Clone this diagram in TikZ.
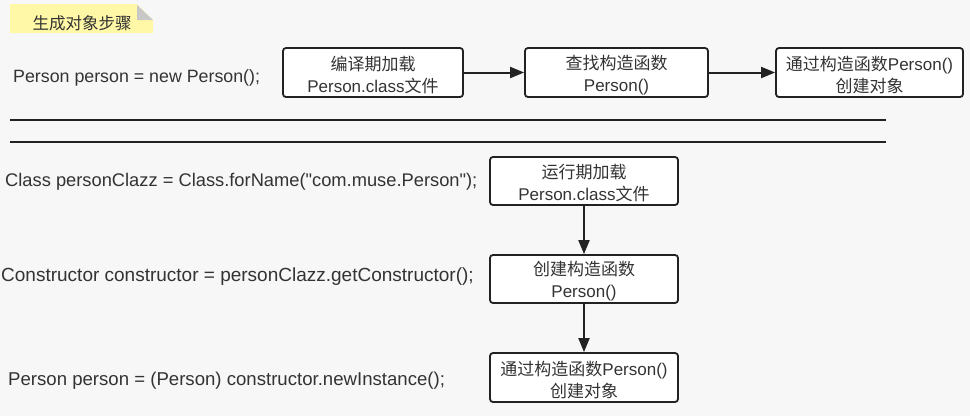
\documentclass[tikz,border=0pt]{standalone}
\usepackage{fontspec}
\setmainfont{Liberation Sans}
\newfontfamily\cjkfont{Noto Sans CJK SC}
\newcommand\myzh[1]{{\cjkfont #1}}
\usetikzlibrary{arrows.meta}
\definecolor{bgc}{HTML}{F7F7F7}
\definecolor{notey}{HTML}{FFF8A6}
\definecolor{foldc}{HTML}{C8C8C8}
\definecolor{txt}{HTML}{333333}
\definecolor{bdr}{HTML}{222222}
\tikzset{
  stepbox/.style={draw=bdr, line width=1.8pt, fill=white, rounded corners=3pt,
    inner sep=0pt},
  boxtext/.style={align=center, text=txt, inner sep=0pt, yshift=-2.5pt,
    font=\fontsize{17}{22}\selectfont},
  codetext/.style={anchor=west, inner sep=0pt, text=txt, font=\fontsize{18.3}{22}\selectfont},
  flow/.style={draw=bdr, line width=2pt, -{Triangle[length=14pt,width=11pt]}},
  sepline/.style={draw=bdr, line width=2.2pt}
}
\begin{document}
\begin{tikzpicture}[x=1pt,y=-1pt]
\fill[bgc] (0,0) rectangle (970,416);
\useasboundingbox (0,0) rectangle (970,416);
% note
\fill[notey] (10,4) -- (137,4) -- (153,20) -- (153,33) -- (10,33) -- cycle;
\fill[foldc] (137,5) -- (153,20) -- (137,20) -- cycle;
\node[inner sep=0pt, text=txt, font=\fontsize{16.5}{20}\selectfont] (note) at (82,23) {\myzh{生成对象步骤}};
% top row
\node[codetext, font=\fontsize{17.8}{22}\selectfont] (t1) at (13,78) {Person person = new Person();};
\node[stepbox, minimum width=180pt, minimum height=49pt,
  label={[boxtext]center:\myzh{编译期加载}\\Person.class\myzh{文件}}] (b1) at (373,72.5) {};
\node[stepbox, minimum width=183pt, minimum height=49pt,
  label={[boxtext]center:\myzh{查找构造函数}\\Person()}] (b2) at (616.5,72.5) {};
\node[stepbox, minimum width=187pt, minimum height=49pt,
  label={[boxtext]center:\myzh{通过构造函数}Person()\\\myzh{创建对象}}] (b3) at (869.5,72.5) {};
\draw[flow] (b1) -- (b2);
\draw[flow] (b2) -- (b3);
% separators
\coordinate (s1a) at (10,120);
\coordinate (s1b) at (886,120);
\coordinate (s2a) at (10,142);
\coordinate (s2b) at (886,142);
\draw[sepline] (s1a) -- (s1b);
\draw[sepline] (s2a) -- (s2b);
% bottom part
\node[codetext] (t2) at (5,182) {Class personClazz = Class.forName(\textquotedbl com.muse.Person\textquotedbl);};
\node[codetext, font=\fontsize{19}{22}\selectfont] (t3) at (1,277) {Constructor constructor = personClazz.getConstructor();};
\node[codetext, font=\fontsize{18.6}{22}\selectfont] (t4) at (8,381) {Person person = (Person) constructor.newInstance();};
\node[stepbox, minimum width=188pt, minimum height=48pt,
  label={[boxtext]center:\myzh{运行期加载}\\Person.class\myzh{文件}}] (b4) at (584,181) {};
\node[stepbox, minimum width=188pt, minimum height=48pt,
  label={[boxtext]center:\myzh{创建构造函数}\\Person()}] (b5) at (584,279) {};
\node[stepbox, minimum width=188pt, minimum height=49pt,
  label={[boxtext]center:\myzh{通过构造函数}Person()\\\myzh{创建对象}}] (b6) at (584,377.5) {};
\draw[flow] (b4) -- (b5);
\draw[flow] (b5) -- (b6);
\end{tikzpicture}
\end{document}
